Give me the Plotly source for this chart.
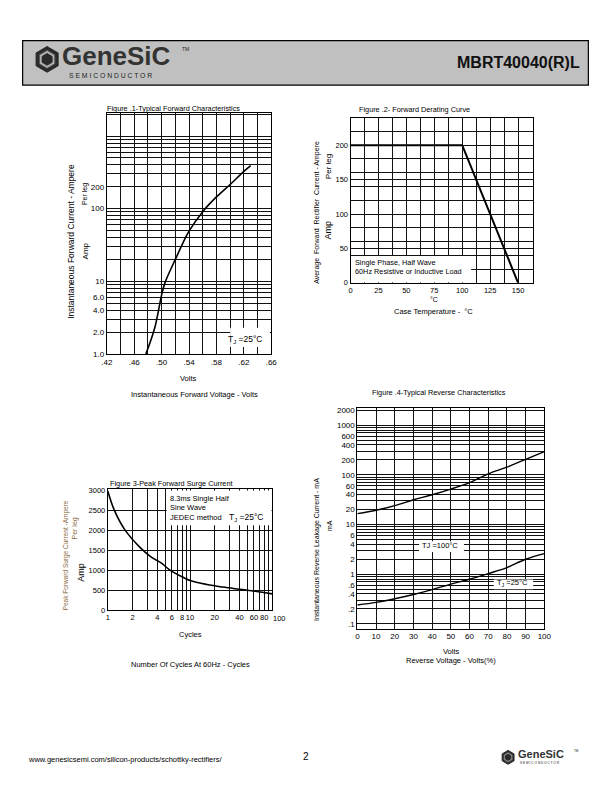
import plotly.graph_objects as go

W, H = 612, 792
FONT = "Liberation Sans"

# ---------------- data ----------------
# Figure 1 - typical forward characteristics
fwd_volts = [0.477, 0.49, 0.50, 0.505, 0.52, 0.54, 0.56, 0.58, 0.60, 0.62, 0.630]
fwd_amps = [1.0, 2.3, 6.5, 9.6, 20, 49, 91, 145, 215, 325, 390]
fig1_xticks = [0.42, 0.46, 0.50, 0.54, 0.58, 0.62, 0.66]
fig1_xlabels = [".42", ".46", ".50", ".54", ".58", ".62", ".66"]
fig1_yticks = [1, 2, 4, 6, 10, 100, 200]
fig1_ylabels = ["1.0", "2.0", "4.0", "6.0", "10", "100", "200"]

# Figure 2 - forward derating curve
case_temp = [0, 100, 150]
derated_amps = [200, 200, 0]
fig2_xticks = [0, 25, 50, 75, 100, 125, 150]
fig2_yticks = [0, 50, 100, 150, 200]

# Figure 3 - peak forward surge current
cycles = [1, 1.2, 1.6, 2.5, 3.35, 4.5, 5.6, 8.1, 10, 16, 25, 40, 62, 100]
surge_amps = [2980, 2500, 2020, 1556, 1330, 1175, 1013, 827, 740, 640, 575, 520, 470, 405]
fig3_xticks = [1, 2, 4, 6, 8, 10, 20, 40, 60, 80]
fig3_last_tick = "100"
fig3_yticks = [0, 500, 1000, 1500, 2000, 2500, 3000]

# Figure 4 - typical reverse characteristics
rev_pct = [0, 10, 20, 30, 40, 50, 60, 70, 80, 90, 100]
leak_100c = [16.6, 19.4, 24, 31.6, 39.8, 51.8, 70, 105, 143, 206, 293]
leak_25c = [0.24, 0.27, 0.32, 0.39, 0.49, 0.63, 0.79, 1.03, 1.36, 2.0, 2.6]
fig4_xticks = [0, 10, 20, 30, 40, 50, 60, 70, 80, 90, 100]
fig4_yticks = [0.1, 0.2, 0.4, 0.6, 1, 2, 4, 6, 10, 20, 40, 60, 100, 200, 400, 600, 1000, 2000]
fig4_ylabels = [".1", ".2", ".4", ".6", "1", "2", "4", "6", "10", "20", "40", "60",
                "100", "200", "400", "600", "1000", "2000"]


def px(x):
    return x / W


def py(y):
    return 1 - y / H


def log_grid(lo_exp, hi_exp):
    vals = []
    for e in range(lo_exp, hi_exp + 1):
        for m in range(1, 10):
            vals.append(round(m * 10 ** e, 6))
    return vals


def ticks_with_labels(gridvals, labelvals, labels):
    text = []
    for v in gridvals:
        lab = ""
        for lv, lt in zip(labelvals, labels):
            if abs(v - lv) < 1e-6 * max(1, abs(lv)):
                lab = lt
        text.append(lab)
    return text


fig = go.Figure()

fig.add_trace(go.Scatter(x=fwd_volts, y=fwd_amps, mode="lines", line=dict(color="black", width=1.6, shape="spline"),
                         xaxis="x", yaxis="y", showlegend=False))
fig.add_trace(go.Scatter(x=case_temp, y=derated_amps, mode="lines", line=dict(color="black", width=2),
                         xaxis="x2", yaxis="y2", showlegend=False))
fig.add_trace(go.Scatter(x=cycles, y=surge_amps, mode="lines", line=dict(color="black", width=1.6, shape="spline"),
                         xaxis="x3", yaxis="y3", showlegend=False))
fig.add_trace(go.Scatter(x=rev_pct, y=leak_100c, mode="lines", line=dict(color="black", width=1.4, shape="spline"),
                         xaxis="x4", yaxis="y4", showlegend=False))
fig.add_trace(go.Scatter(x=rev_pct, y=leak_25c, mode="lines", line=dict(color="black", width=1.4, shape="spline"),
                         xaxis="x4", yaxis="y4", showlegend=False))

GRID = "#111111"
common = dict(showgrid=True, gridcolor=GRID, gridwidth=1, zeroline=False, showline=True, linecolor="black",
              linewidth=1, mirror=True, ticks="", tickangle=0,
              tickfont=dict(family=FONT, size=8, color="#000"))

# Figure 1 axes
f1_xgrid = [round(0.42 + 0.02 * i, 4) for i in range(13)]
f1_ygrid = log_grid(0, 3)
fig.update_layout(
    xaxis=dict(domain=[px(103), px(271)], anchor="y", range=[0.42, 0.66],
               tickvals=f1_xgrid, ticktext=ticks_with_labels(f1_xgrid, fig1_xticks, fig1_xlabels), **common),
    yaxis=dict(domain=[py(354), py(110)], anchor="x", type="log", range=[0, 3.32],
               tickvals=f1_ygrid, ticktext=ticks_with_labels(f1_ygrid, fig1_yticks, fig1_ylabels), **common),
)

# Figure 2 axes
f2_xgrid = [12.5 * i for i in range(14)]
f2_ygrid = sorted(set([20 * i for i in range(12)] + fig2_yticks))
c2 = dict(common)
c2["tickfont"] = dict(family=FONT, size=7.5, color="#000")
fig.update_layout(
    xaxis2=dict(domain=[px(352), px(538)], anchor="y2", range=[0, 163],
                tickvals=f2_xgrid, ticktext=ticks_with_labels(f2_xgrid, fig2_xticks, [str(v) for v in fig2_xticks]),
                **c2),
    yaxis2=dict(domain=[py(282), py(115)], anchor="x2", range=[0, 240],
                tickvals=f2_ygrid,
                ticktext=ticks_with_labels(f2_ygrid, fig2_yticks, [str(v) for v in fig2_yticks]), **c2),
)

# Figure 3 axes
f3_xgrid = log_grid(0, 1) + [100]
f3_ygrid = fig3_yticks
c3 = dict(common)
c3["tickfont"] = dict(family=FONT, size=7.5, color="#000")
fig.update_layout(
    xaxis3=dict(domain=[px(104), px(272)], anchor="y3", type="log", range=[0, 2],
                tickvals=f3_xgrid, ticktext=ticks_with_labels(f3_xgrid, fig3_xticks, [str(v) for v in fig3_xticks]),
                **c3),
    yaxis3=dict(domain=[py(613), py(491)], anchor="x3", range=[0, 3020],
                tickvals=f3_ygrid, ticktext=[str(v) for v in f3_ygrid], **c3),
)

# Figure 4 axes
f4_ygrid = log_grid(-1, 3)
fig.update_layout(
    xaxis4=dict(domain=[px(359), px(550)], anchor="y4", range=[0, 100],
                tickvals=fig4_xticks, ticktext=[str(v) for v in fig4_xticks], **common),
    yaxis4=dict(domain=[py(632), py(409)], anchor="x4", type="log", range=[-1.1, 3.34],
                tickvals=f4_ygrid, ticktext=ticks_with_labels(f4_ygrid, fig4_yticks, fig4_ylabels), **common),
)

shapes = []
annotations = []


def text(x, y, s, size=7.5, anchor="center", color="#000", angle=0, bold=False, bg=None, yanchor="middle"):
    d = dict(x=px(x), y=py(y), xref="paper", yref="paper", text=("<b>%s</b>" % s) if bold else s,
             showarrow=False, xanchor=anchor, yanchor=yanchor, textangle=angle,
             font=dict(family=FONT, size=size, color=color))
    if bg:
        d["bgcolor"] = bg
    annotations.append(d)


# white boxes over grids (between grid and traces)
shapes.append(dict(type="rect", xref="x2", yref="y2", x0=0.3, x1=108, y0=0.5, y1=39, fillcolor="white",
                   line=dict(width=0), layer="between"))
shapes.append(dict(type="rect", xref="x3", yref="y3", x0=5.2, x1=98, y0=2120, y1=2990, fillcolor="white",
                   line=dict(width=0), layer="between"))
shapes.append(dict(type="rect", xref="x", yref="y", x0=0.6, x1=0.658, y0=1.25, y1=2.3, fillcolor="white",
                   line=dict(width=0), layer="between"))
shapes.append(dict(type="rect", xref="x4", yref="y4", x0=33, x1=57, y0=2.8, y1=4.6, fillcolor="white",
                   line=dict(width=0), layer="between"))
shapes.append(dict(type="rect", xref="x4", yref="y4", x0=73, x1=94, y0=0.5, y1=0.78, fillcolor="white",
                   line=dict(width=0), layer="between"))

# header
shapes.append(dict(type="rect", xref="paper", yref="paper", x0=px(17), x1=px(595), y0=py(37), y1=py(82),
                   fillcolor="#c0c0c0", line=dict(color="black", width=1.2)))


def hexpath(cx, cy, r):
    import math
    pts = []
    for k in range(6):
        a = math.radians(60 * k + 30)
        pts.append((px(cx + r * math.cos(a)), py(cy + r * math.sin(a))))
    return "M " + " L ".join("%f,%f" % p for p in pts) + " Z"


def logo(cx, cy, r, tsize, ssize, tx, ty, sx, sy, tmx, tmy, tms):
    shapes.append(dict(type="path", xref="paper", yref="paper", path=hexpath(cx, cy, r),
                       fillcolor="#2a2a2a", line=dict(color="#2a2a2a", width=1)))
    shapes.append(dict(type="path", xref="paper", yref="paper", path=hexpath(cx, cy, r * 0.7),
                       fillcolor="#b0b0b0", line=dict(color="#555", width=1)))
    shapes.append(dict(type="path", xref="paper", yref="paper", path=hexpath(cx, cy, r * 0.45),
                       fillcolor="#2a2a2a", line=dict(color="#2a2a2a", width=1)))
    text(tx, ty, "GeneSiC", size=tsize, anchor="left", color="#333", bold=True)
    text(sx, sy, "S E M I C O N D U C T O R", size=ssize, anchor="left", color="#222")
    text(tmx, tmy, "TM", size=tms, anchor="left", color="#222")


logo(42, 56, 13, 26, 6.8, 55, 53, 62, 72, 178, 46, 5)
text(588, 59, "MBRT40040(R)L", size=16, anchor="right", color="#111", bold=True)

# Figure 1 texts
text(101, 106, "Figure .1-Typical Forward Characteristics", size=7.3, anchor="left")
text(67, 240, "Instantaneous Forward Current - Ampere", size=8.5, angle=-90)
text(81, 192, "Per leg", size=7, angle=-90)
text(81, 250, "Amp", size=8, angle=-90)
text(186, 379, "Volts", size=7.5)
text(193, 395, "Instantaneous Forward Voltage - Volts", size=7.5)
text(245, 339, "T<sub>J</sub> =25°C", size=8.5)

# Figure 2 texts
text(417, 107, "Figure .2- Forward Derating Curve", size=7.3)
text(317, 211, "Average  Forward  Rectifier  Current - Ampere", size=7, angle=-90)
text(329, 165, "Per leg", size=8, angle=-90)
text(329, 229, "Amp", size=9, angle=-90)
text(437, 299, "°C", size=7)
text(437, 311, "Case Temperature -  °C", size=7.5)
text(355, 261, "Single Phase, Half Wave", size=7.3, anchor="left")
text(355, 271, "60Hz Resistive or Inductive Load", size=7.3, anchor="left")

# Figure 3 texts
text(104, 485, "Figure 3-Peak Forward Surge Current", size=7.3, anchor="left")
text(61, 558, "Peak Forward Surge Current -Ampere", size=6.5, angle=-90, color="#8c6a3c")
text(70, 531, "Per leg", size=7, angle=-90, color="#8c6a3c")
text(77, 575, "Amp", size=9, angle=-90)
text(166, 500, "8.3ms Single Half", size=7.5, anchor="left")
text(166, 509.5, "Sine Wave", size=7.5, anchor="left")
text(166, 519, "JEDEC method", size=7.5, anchor="left")
text(246, 519, "T<sub>J</sub> =25°C", size=8.5)
text(270.5, 621.5, fig3_last_tick, size=7.5, anchor="left")
text(188, 638, "Cycles", size=7.5)
text(188, 668, "Number Of Cycles At 60Hz - Cycles", size=7.5)

# Figure 4 texts
text(442, 393, "Figure .4-Typical Reverse Characteristics", size=7.3)
text(317, 552, "Instantaneous Reverse Leakage Current - mA", size=7, angle=-90)
text(330, 527, "mA", size=7, angle=-90)
text(443, 548, "TJ =100°C", size=7.5)
text(518, 586, "T<sub>J</sub> =25°C", size=7.5)
text(455, 655, "Volts", size=7.5)
text(455, 664, "Reverse Voltage - Volts(%)", size=7.5)

# footer
text(20, 764, "www.genesicsemi.com/silicon-products/schottky-rectifiers/", size=7.5, anchor="left")
text(306, 761, "2", size=10)
logo(513, 762, 7, 11, 3.2, 521, 759, 523, 768, 578, 756, 3)

fig.update_layout(width=W, height=H, margin=dict(l=0, r=0, t=0, b=0), paper_bgcolor="white",
                  plot_bgcolor="white", shapes=shapes, annotations=annotations, showlegend=False,
                  font=dict(family=FONT))

fig.write_html("out.html", config={"displayModeBar": False},
               post_script="document.body.style.margin='0';document.body.style.overflow='hidden';")
